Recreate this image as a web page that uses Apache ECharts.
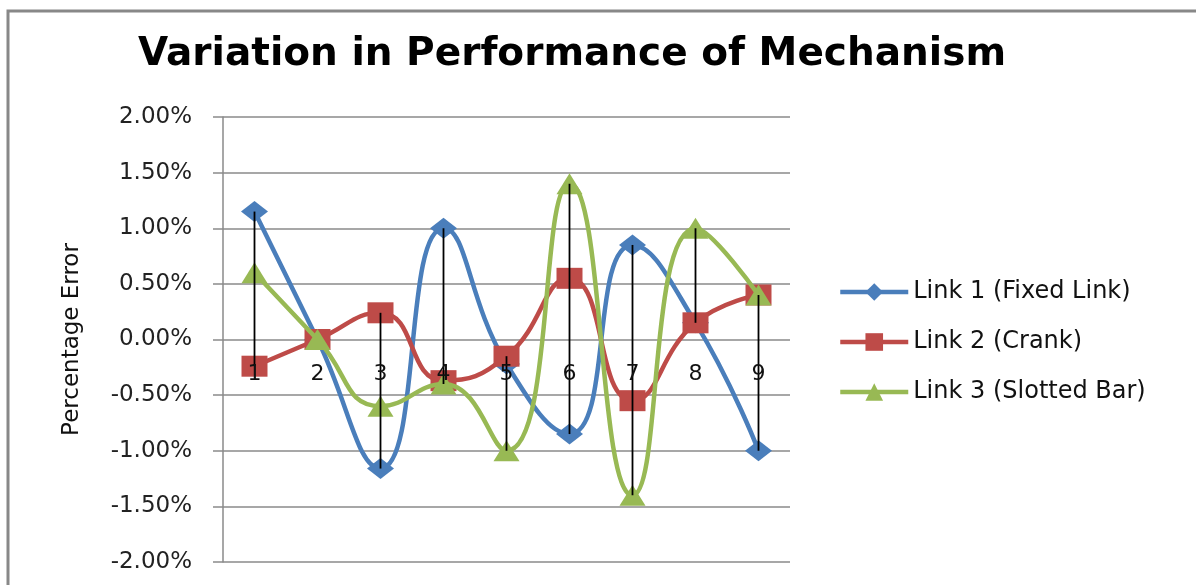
<!DOCTYPE html>
<html>
<head>
<meta charset="utf-8">
<script src="https://cdn.jsdelivr.net/npm/echarts@6/dist/echarts.min.js"></script>
<style>html,body{margin:0;padding:0;background:#fff;}#chart{width:1196px;height:585px;}</style>
</head>
<body>
<div id="chart"></div>
<script>
var categories = ['1','2','3','4','5','6','7','8','9'];
var link1 = [1.15, 0.00, -1.16, 1.00, -0.22, -0.85, 0.85, 0.15, -1.00];
var link2 = [-0.24, 0.00, 0.24, -0.37, -0.15, 0.55, -0.55, 0.15, 0.40];
var link3 = [0.60, 0.00, -0.60, -0.40, -1.00, 1.40, -1.40, 1.00, 0.40];
var seriesNames = ['Link 1 (Fixed Link)', 'Link 2 (Crank)', 'Link 3 (Slotted Bar)'];
var yTicks = [-2, 2, 0.5];

var hiLo = categories.map(function (c, i) {
  var vals = [link1[i], link2[i], link3[i]];
  return [i, Math.min.apply(null, vals), Math.max.apply(null, vals)];
});

var GRID_TOP = 117, GRID_BOTTOM = 23, H = 585;
var plotH = H - GRID_TOP - GRID_BOTTOM;
// move the category axis up to the zero line of the value axis
var zeroOffset = -plotH * (0 - yTicks[0]) / (yTicks[1] - yTicks[0]);

var chart = echarts.init(document.getElementById('chart'));
var FONT = 'DejaVu Sans';
chart.setOption({
  animation: false,
  backgroundColor: '#ffffff',
  title: {
    text: 'Variation in Performance of Mechanism',
    left: 567, top: 30, textAlign: 'center',
    textStyle: { fontFamily: FONT, fontWeight: 'bold', fontSize: 39, color: '#000' }
  },
  graphic: [{
    type: 'polyline', silent: true,
    shape: { points: [[8, 585], [8, 11], [1196, 11]] },
    style: { stroke: '#888', lineWidth: 3, fill: null }
  }],
  legend: {
    orient: 'vertical', left: 838, top: 280, padding: 0,
    itemWidth: 68, itemHeight: 22, itemGap: 26,
    data: seriesNames,
    lineStyle: { width: 4.5 },
    textStyle: { fontFamily: FONT, fontSize: 24, color: '#111' }
  },
  grid: { left: 223, right: 406, top: GRID_TOP, bottom: GRID_BOTTOM, containLabel: false, outerBoundsMode: 'none' },
  xAxis: {
    type: 'category', data: categories, boundaryGap: true, position: 'bottom',
    offset: zeroOffset, z: 20,
    axisLine: { show: false, onZero: false },
    axisTick: { show: false },
    axisLabel: { margin: 24, fontFamily: FONT, fontSize: 22, color: '#111' },
    splitLine: { show: false }
  },
  yAxis: {
    type: 'value', min: yTicks[0], max: yTicks[1], interval: yTicks[2],
    name: 'Percentage Error', nameLocation: 'middle', nameGap: 139, nameRotate: 90,
    nameTextStyle: { fontFamily: FONT, fontSize: 23, color: '#111' },
    axisLine: { show: true, lineStyle: { color: '#8a8a8a', width: 1.5 } },
    axisTick: { show: true, length: 10, lineStyle: { color: '#8a8a8a', width: 1.5 } },
    axisLabel: { margin: 31, fontFamily: FONT, fontSize: 23, color: '#222',
      formatter: function (v) { return v.toFixed(2) + '%'; } },
    splitLine: { show: true, lineStyle: { color: '#8a8a8a', width: 1.5 } }
  },
  series: [
    { name: seriesNames[0], type: 'line', data: link1, smooth: 0.5,
      symbol: 'diamond', symbolSize: [27, 21],
      lineStyle: { color: '#4A7EBB', width: 4.5 }, itemStyle: { color: '#4A7EBB' }, z: 3 },
    { name: seriesNames[1], type: 'line', data: link2, smooth: 0.5,
      symbol: 'rect', symbolSize: [26, 21],
      lineStyle: { color: '#BE4B48', width: 4.5 }, itemStyle: { color: '#BE4B48' }, z: 4 },
    { name: seriesNames[2], type: 'line', data: link3, smooth: 0.5,
      symbol: 'triangle', symbolSize: [26, 21],
      lineStyle: { color: '#98B954', width: 4.5 }, itemStyle: { color: '#98B954' }, z: 5 },
    { name: 'hilo', type: 'custom', data: hiLo, z: 10, silent: true,
      renderItem: function (params, api) {
        var p1 = api.coord([api.value(0), api.value(1)]);
        var p2 = api.coord([api.value(0), api.value(2)]);
        return { type: 'line', shape: { x1: p1[0], y1: p1[1], x2: p2[0], y2: p2[1] },
          style: { stroke: '#000', lineWidth: 1.8 } };
      } }
  ]
});
</script>
</body>
</html>
